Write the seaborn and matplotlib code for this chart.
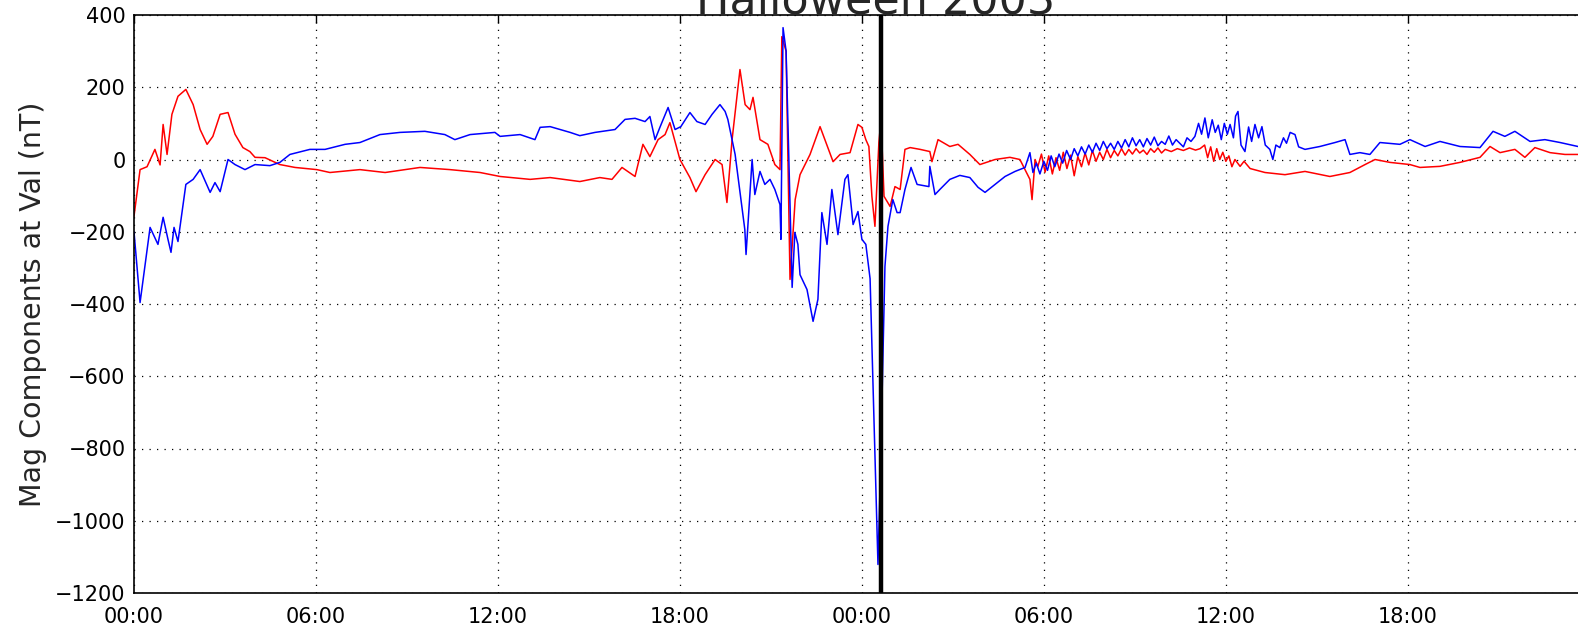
import matplotlib
matplotlib.use("Agg")
import matplotlib.pyplot as plt
import matplotlib.dates as mdates
import seaborn as sns
import pandas as pd

# Halloween 2003 storm, magnetometer components at Val
start = pd.Timestamp("2003-10-29 00:00")

red_hours = [0.00, 0.20, 0.43, 0.69, 0.86, 0.96, 1.09, 1.25, 1.45, 1.71, 1.95, 2.18, 2.41, 2.60,
             2.84, 3.10, 3.33, 3.59, 3.82, 3.99, 4.32, 4.81, 5.31, 6.03, 6.46, 7.45, 8.28, 9.43,
             10.42, 11.41, 12.07, 13.06, 13.72, 14.70, 15.36, 15.76, 16.09, 16.52, 16.78, 17.01,
             17.28, 17.51, 17.67, 18.00, 18.33, 18.53, 18.83, 19.16, 19.39, 19.55, 19.72, 19.98,
             20.15, 20.31, 20.41, 20.64, 20.90, 21.13, 21.30, 21.36, 21.50, 21.63, 21.80, 21.96,
             22.29, 22.62, 22.78, 23.05, 23.28, 23.61, 23.87, 24.00, 24.13, 24.23, 24.33, 24.43,
             24.56, 24.63, 24.73, 24.93, 25.09, 25.26, 25.42, 25.59, 25.92, 26.24, 26.31, 26.51,
             26.90, 27.17, 27.56, 27.89, 28.39, 28.88, 29.21, 29.54, 29.61, 29.71,
             29.80, 29.92, 30.04, 30.16, 30.28, 30.40, 30.52, 30.64, 30.76, 30.88, 31.00, 31.12,
             31.24, 31.36, 31.48, 31.60, 31.72, 31.84, 31.96, 32.08, 32.20, 32.32, 32.44, 32.56,
             32.68, 32.80, 32.92, 33.04, 33.16, 33.28, 33.40, 33.52, 33.64, 33.76, 33.88, 34.00,
             34.20, 34.40, 34.60, 34.80, 35.00, 35.15, 35.30, 35.40, 35.50, 35.60, 35.70, 35.80,
             35.90, 36.00, 36.10, 36.20, 36.30, 36.47, 36.60, 36.80, 37.29, 37.95, 38.61, 39.43,
             40.09, 40.59, 40.92, 41.41, 42.07, 42.40, 43.06, 43.72, 44.38, 44.71, 45.04, 45.53,
             45.86, 46.19, 46.69, 47.18, 47.61]
red_vals = [-157, -28, -20, 28, -15, 97, 14, 125, 175, 194, 152, 83, 42, 64,
            125, 130, 70, 33, 22, 6, 5, -14, -22, -28, -36, -28, -36, -22,
            -28, -36, -47, -55, -50, -61, -50, -55, -22, -47, 42, 8,
            55, 69, 102, 0, -50, -89, -42, 0, -14, -119, 55, 249,
            152, 138, 172, 55, 42, -14, -28, 340, 300, -332, -111, -42,
            14, 91, 55, -6, 14, 19, 97, 89, 55, 36, -102, -185,
            47, 111, -102, -130, -75, -83, 28, 33, 28, 22, -6, 55,
            36, 42, 14, -14, 0, 6, 0, -55, -111, 0,
            -20, 15, -35, 10, -40, 5, -30, 20, -25, 12, -45, 8,
            -20, 18, -15, 25, -5, 20, 0, 28, 5, 25, 10, 30,
            12, 28, 15, 30, 18, 26, 14, 30, 20, 32, 18, 28,
            22, 30, 25, 32, 26, 30, 40, 5, 35, -5, 30, 0,
            20, -5, 10, -20, 0, -19, -5, -25, -36, -42, -33, -47,
            -36, -14, 0, -8, -14, -22, -19, -8, 6, 36, 19, 28,
            6, 33, 19, 14, 14]

blue_hours = [0.00, 0.20, 0.53, 0.79, 0.96, 1.12, 1.22, 1.32, 1.45, 1.58, 1.71, 1.95, 2.18, 2.51,
              2.67, 2.84, 3.10, 3.33, 3.66, 3.99, 4.48, 4.81, 5.14, 5.80, 6.30, 6.96, 7.45, 8.11,
              8.77, 9.59, 10.25, 10.58, 11.08, 11.90, 12.07, 12.73, 13.22, 13.39, 13.72, 14.38,
              14.70, 15.20, 15.86, 16.19, 16.52, 16.85, 17.01, 17.18, 17.34, 17.61, 17.84, 18.03,
              18.33, 18.56, 18.83, 19.06, 19.32, 19.49, 19.58, 19.82, 20.14, 20.18, 20.38, 20.47,
              20.64, 20.80, 20.97, 21.13, 21.30, 21.33, 21.40, 21.50, 21.70, 21.79, 21.89, 21.96,
              22.19, 22.39, 22.55, 22.68, 22.85, 23.01, 23.21, 23.44, 23.54, 23.71, 23.87, 24.00,
              24.13, 24.27, 24.53, 24.60, 24.76, 24.86, 25.02, 25.16, 25.26, 25.42, 25.62, 25.82,
              26.21, 26.24, 26.41, 26.57, 26.90, 27.23, 27.56, 27.83, 28.06, 28.39, 28.72, 29.05,
              29.38, 29.54,
              29.64, 29.75, 29.87, 30.00, 30.12, 30.24, 30.36, 30.50, 30.62, 30.75, 30.88, 31.00,
              31.12, 31.24, 31.36, 31.48, 31.60, 31.72, 31.84, 31.96, 32.08, 32.20, 32.32, 32.44,
              32.56, 32.68, 32.80, 32.92, 33.04, 33.16, 33.28, 33.40, 33.52, 33.64, 33.76, 33.88,
              34.00, 34.12, 34.24, 34.36, 34.48, 34.60, 34.72, 34.85, 34.98, 35.10, 35.20, 35.31,
              35.42, 35.55, 35.65, 35.75, 35.85, 35.95, 36.05, 36.14, 36.25, 36.32, 36.40, 36.50,
              36.63, 36.75, 36.85, 36.96, 37.08, 37.19, 37.30, 37.45, 37.55, 37.65, 37.78, 37.90,
              38.00, 38.12, 38.28, 38.40, 38.61, 39.10, 39.60, 39.93, 40.09, 40.42, 40.75, 41.08,
              41.74, 42.07, 42.57, 43.06, 43.72, 44.38, 44.81, 45.20, 45.53, 46.03, 46.52, 47.02,
              47.61]
blue_vals = [-200, -396, -188, -235, -160, -221, -257, -188, -227, -147, -69, -55, -28, -91,
             -64, -89, 0, -14, -28, -14, -17, -8, 14, 28, 28, 42, 47, 69,
             75, 78, 69, 55, 69, 75, 64, 69, 55, 89, 91, 75,
             66, 75, 83, 111, 114, 105, 119, 55, 89, 144, 83, 91,
             130, 105, 97, 125, 152, 133, 111, 14, -194, -263, 0, -97,
             -33, -69, -55, -83, -125, -221, 365, 300, -354, -202, -235, -319,
             -360, -448, -387, -147, -235, -83, -208, -55, -42, -180, -144, -221,
             -235, -330, -1121, -900, -296, -185, -111, -147, -147, -83, -22, -69,
             -75, -19, -97, -83, -55, -44, -50, -77, -91, -69, -47, -33,
             -22, 19,
             -36, -10, -40, -5, -30, 10, -20, 15, -10, 25, 0, 30,
             10, 35, 15, 40, 20, 45, 25, 50, 30, 45, 28, 50,
             32, 55, 35, 60, 38, 55, 35, 58, 40, 62, 38, 50,
             42, 65, 40, 55, 45, 35, 60, 50, 64, 100, 70, 115,
             60, 110, 75, 95, 55, 100, 70, 97, 60, 120, 133, 40,
             22, 90, 50, 97, 60, 91, 40, 28, 0, 40, 33, 60,
             45, 75, 69, 35, 28, 36, 47, 55, 14, 19, 14, 47,
             42, 55, 36, 50, 36, 33, 78, 64, 78, 50, 55, 47,
             36]

tick_hours = [0, 6, 12, 18, 24, 30, 36, 42]
event_hour = 24.63
x_end_hour = 48.93

red_df = pd.DataFrame({"time": start + pd.to_timedelta(red_hours, unit="h"), "value": red_vals})
blue_df = pd.DataFrame({"time": start + pd.to_timedelta(blue_hours, unit="h"), "value": blue_vals})

sns.set_style("white")
plt.rcParams["font.family"] = ["DejaVu Sans"]

fig = plt.figure(figsize=(15.78, 6.26), dpi=100)
ax = fig.add_axes([134 / 1578, 1 - 593 / 626, (1618 - 134) / 1578, (593 - 15) / 626])

sns.lineplot(data=red_df, x="time", y="value", color="#ff0000", linewidth=1.1, ax=ax)
sns.lineplot(data=blue_df, x="time", y="value", color="#0000ff", linewidth=1.1, ax=ax)
ax.axvline(start + pd.Timedelta(hours=event_hour), color="black", linewidth=3.2)

ax.set_xlim(start, start + pd.Timedelta(hours=x_end_hour))
ax.set_ylim(-1200, 400)
ax.set_yticks(range(-1200, 401, 200))
ax.set_xticks(start + pd.to_timedelta(tick_hours, unit="h"))
ax.xaxis.set_major_formatter(mdates.DateFormatter("%H:%M"))

ax.grid(True, color="black", linestyle=(0, (1, 5)), linewidth=0.9)
for s in ax.spines.values():
    s.set_color("black")
    s.set_linewidth(1.2)
ax.tick_params(direction="in", length=6, width=1, labelsize=15, top=True, right=True,
               colors="black")
ax.tick_params(axis="x", pad=10)
ax.tick_params(axis="y", pad=6)

ax.set_xlabel("")
ax.set_ylabel("Mag Components at Val (nT)", fontsize=20.5, labelpad=6)
ax.set_title("Halloween 2003", fontsize=32, pad=1)

fig.savefig("out.png", dpi=100)
